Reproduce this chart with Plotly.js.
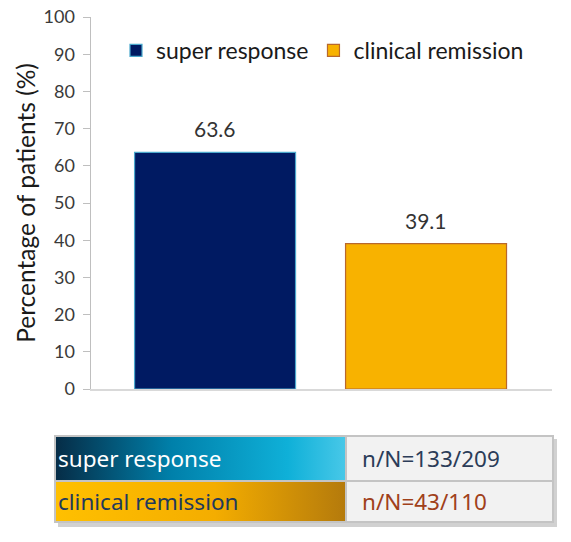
<!DOCTYPE html>
<html>
<head>
<meta charset="utf-8">
<script src="https://cdn.plot.ly/plotly-3.0.1.min.js"></script>
<style>html,body{margin:0;padding:0;background:#fff;}#chart{width:571px;height:542px;}</style>
</head>
<body>
<div id="chart"></div>
<script>
// ---- data ----
const categories = ["super response", "clinical remission"];
const percentages = [63.6, 39.1];
const valueLabels = ["63.6", "39.1"];
const tableCounts = ["n/N=133/209", "n/N=43/110"];
const yTicks = [0, 10, 20, 30, 40, 50, 60, 70, 80, 90, 100];

// ---- styles ----
const W = 571, H = 542;
const plotL = 91, plotR = 552, plotT = 17, plotB = 389;
const barColors = ["#001a62", "#f8b200"];
const barLines = ["#4aa8cc", "#b8682e"];
const cellGradients = [
  [[0, "#062c46"], [0.4, "#0080aa"], [0.8, "#0fb0d8"], [1, "#48c8e8"]],
  [[0, "#ffc000"], [0.55, "#f4ad00"], [1, "#b47a0c"]]
];
const labelColors = ["#ffffff", "#1f3a5c"];
const countColors = ["#2b3c58", "#a0401a"];

const traces = categories.map((c, i) => ({
  type: "bar",
  name: c,
  x: [c],
  y: [percentages[i]],
  width: 0.763,
  marker: {color: barColors[i], line: {color: barLines[i], width: 1.2}},
  hoverinfo: "skip",
  xaxis: "x", yaxis: "y"
}));

const annotations = categories.map((c, i) => ({
  xref: "x", yref: "y", x: c, y: percentages[i], text: valueLabels[i],
  showarrow: false, xanchor: "center", yanchor: "bottom", yshift: 9,
  font: {family: "Lato, sans-serif", size: 21, color: "#333333"}
}));

// table geometry (layout, pixel space on overlay axes)
const tL = 55, tM = 346, tR = 553, tTop = 436, tMid = 481, tBot = 522;
const rowTops = [tTop, tMid];
const rowBots = [tMid, tBot];

const shapes = [];
// shadow
shapes.push({type: "rect", xref: "x2", yref: "y2", x0: tL + 3, x1: tR + 4, y0: tTop + 3, y1: tBot + 5,
  fillcolor: "rgba(0,0,0,0.18)", line: {width: 0}, layer: "below"});
shapes.push({type: "rect", xref: "x2", yref: "y2", x0: tL, x1: tR, y0: tTop, y1: tBot,
  fillcolor: "#f2f2f2", line: {width: 0}, layer: "below"});

categories.forEach((c, i) => {
  traces.push({
    type: "scatter", mode: "lines", xaxis: "x2", yaxis: "y2",
    x: [tL, tM, tM, tL, tL], y: [rowTops[i], rowTops[i], rowBots[i], rowBots[i], rowTops[i]],
    fill: "toself", fillgradient: {type: "horizontal", colorscale: cellGradients[i]},
    line: {width: 0}, showlegend: false, hoverinfo: "skip"
  });
  annotations.push({xref: "x2", yref: "y2", x: tL + 1, y: (rowTops[i] + rowBots[i]) / 2,
    text: c, showarrow: false, xanchor: "left", yanchor: "middle",
    font: {family: "Noto Sans, sans-serif", size: 22.5, color: labelColors[i]}});
  annotations.push({xref: "x2", yref: "y2", x: tM + 14, y: (rowTops[i] + rowBots[i]) / 2,
    text: tableCounts[i], showarrow: false, xanchor: "left", yanchor: "middle",
    font: {family: "Noto Sans, sans-serif", size: 22.5, color: countColors[i]}});
});
// borders
const bc = "#c4c4c4";
shapes.push({type: "rect", xref: "x2", yref: "y2", x0: tL, x1: tR, y0: tTop, y1: tBot, line: {color: bc, width: 2}});
shapes.push({type: "line", xref: "x2", yref: "y2", x0: tL, x1: tR, y0: tMid, y1: tMid, line: {color: bc, width: 2}});
shapes.push({type: "line", xref: "x2", yref: "y2", x0: tM, x1: tM, y0: tTop, y1: tBot, line: {color: bc, width: 2}});

const layout = {
  width: W, height: H,
  margin: {l: 0, r: 0, t: 0, b: 0},
  paper_bgcolor: "#ffffff", plot_bgcolor: "rgba(0,0,0,0)",
  showlegend: true,
  legend: {orientation: "h", x: 116 / W, y: 1 - 29 / H, xanchor: "left", yanchor: "top",
    font: {family: "Lato, sans-serif", size: 23, color: "#1a1a1a"},
    bgcolor: "rgba(0,0,0,0)", itemwidth: 30, tracegroupgap: 0, traceorder: "normal"},
  xaxis: {domain: [plotL / W, plotR / W], type: "category", range: [-0.588, 1.597],
    showticklabels: false, ticks: "", showgrid: false, zeroline: false,
    showline: true, linecolor: "#d9d9d9", linewidth: 1.5, fixedrange: true},
  yaxis: {domain: [1 - plotB / H, 1 - plotT / H], range: [0, 100], tickvals: yTicks,
    ticks: "outside", ticklen: 7, tickcolor: "#bfbfbf", showline: true, linecolor: "#bfbfbf", linewidth: 1.5,
    showgrid: false, zeroline: false, ticklabelstandoff: 4,
    tickfont: {family: "Lato, sans-serif", size: 18, color: "#3a3a3a"},
    title: {text: "Percentage of patients (%)", font: {family: "Lato, sans-serif", size: 24.5, color: "#1a1a1a"}, standoff: 1},
    fixedrange: true},
  xaxis2: {domain: [0, 1], range: [0, W], visible: false, fixedrange: true, anchor: "y2"},
  yaxis2: {domain: [0, 1], range: [H, 0], visible: false, fixedrange: true, anchor: "x2"},
  shapes: shapes,
  annotations: annotations
};

Plotly.newPlot("chart", traces, layout, {staticPlot: true, displayModeBar: false});
</script>
</body>
</html>
